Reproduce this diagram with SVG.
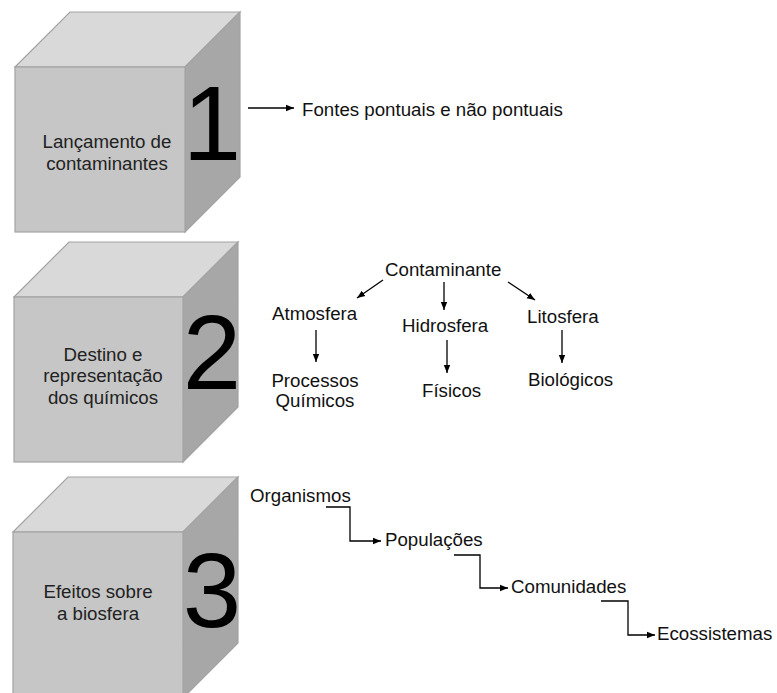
<svg xmlns="http://www.w3.org/2000/svg" width="777" height="693" viewBox="0 0 777 693">
<defs>
<style>
.top{fill:#d9d9d9;stroke:#a3a3a3;stroke-width:1.2}
.front{fill:#c6c6c6;stroke:#a3a3a3;stroke-width:1.2}
.side{fill:#a7a7a7;stroke:#a3a3a3;stroke-width:1.2}
.ct{font-family:"Liberation Sans",Arial,sans-serif;font-size:18.7px;fill:#222;text-anchor:middle}
.num{font-family:"Liberation Sans",Arial,sans-serif;font-size:105px;fill:#000;text-anchor:middle}
.lb{font-family:"Liberation Sans",Arial,sans-serif;font-size:18.7px;fill:#111}
.mid{text-anchor:middle}
.ln{fill:none;stroke:#000;stroke-width:1.3}
</style>
<marker id="ah" markerUnits="userSpaceOnUse" markerWidth="9" markerHeight="8" refX="8" refY="4" orient="auto">
<path d="M0,0.8 L8,4 L0,7.2 Z" fill="#000"/>
</marker>
</defs>
<rect width="777" height="693" fill="#fff"/>
<g id="cube1">
<polygon class="top" points="15,67 70,12 240,12 185,67"/>
<polygon class="side" points="185,67 240,12 240,177 185,232"/>
<rect class="front" x="15" y="67" width="170" height="165"/>
<text class="ct" x="107" y="148">Lançamento de</text>
<text class="ct" x="107" y="170">contaminantes</text>
<text class="num" x="212" y="160">1</text>
</g>
<g id="cube2">
<polygon class="top" points="14,297 69,242 238,242 183,297"/>
<polygon class="side" points="183,297 238,242 238,407 183,462"/>
<rect class="front" x="14" y="297" width="169" height="165"/>
<text class="ct" x="103" y="361">Destino e</text>
<text class="ct" x="103" y="382">representação</text>
<text class="ct" x="103" y="404">dos químicos</text>
<text class="num" x="212" y="389">2</text>
</g>
<g id="cube3">
<polygon class="top" points="13,532 68,477 238,477 183,532"/>
<polygon class="side" points="183,532 238,477 238,643 183,698"/>
<rect class="front" x="13" y="532" width="170" height="166"/>
<text class="ct" x="98" y="598">Efeitos sobre</text>
<text class="ct" x="98" y="620">a biosfera</text>
<text class="num" x="212" y="627">3</text>
</g>
<g id="n-fontes"><text class="lb" x="302" y="116">Fontes pontuais e não pontuais</text></g>
<g id="n-contaminante"><text class="lb" x="385" y="276">Contaminante</text></g>
<g id="n-atmosfera"><text class="lb" x="272" y="320">Atmosfera</text></g>
<g id="n-hidrosfera"><text class="lb" x="402" y="332">Hidrosfera</text></g>
<g id="n-litosfera"><text class="lb" x="527" y="323">Litosfera</text></g>
<g id="n-processos"><text class="lb mid" x="315" y="387">Processos</text><text class="lb mid" x="315" y="407">Químicos</text></g>
<g id="n-fisicos"><text class="lb" x="422" y="397">Físicos</text></g>
<g id="n-biologicos"><text class="lb" x="528" y="386">Biológicos</text></g>
<g id="n-organismos"><text class="lb" x="250" y="502">Organismos</text></g>
<g id="n-populacoes"><text class="lb" x="385" y="546">Populações</text></g>
<g id="n-comunidades"><text class="lb" x="511" y="593">Comunidades</text></g>
<g id="n-ecossistemas"><text class="lb" x="657" y="640">Ecossistemas</text></g>
<g id="connectors">
<path class="ln" d="M248,108 H294" marker-end="url(#ah)"/>
<path class="ln" d="M383,280 L357,298" marker-end="url(#ah)"/>
<path class="ln" d="M444,282 V310" marker-end="url(#ah)"/>
<path class="ln" d="M508,282 L535,300" marker-end="url(#ah)"/>
<path class="ln" d="M316,330 V362" marker-end="url(#ah)"/>
<path class="ln" d="M447,340 V373" marker-end="url(#ah)"/>
<path class="ln" d="M562,330 V363" marker-end="url(#ah)"/>
<path class="ln" d="M326,507 H350 V541 H381" marker-end="url(#ah)"/>
<path class="ln" d="M454,555 H480 V588 H508" marker-end="url(#ah)"/>
<path class="ln" d="M601,601 H628 V635 H655" marker-end="url(#ah)"/>
</g>
</svg>
